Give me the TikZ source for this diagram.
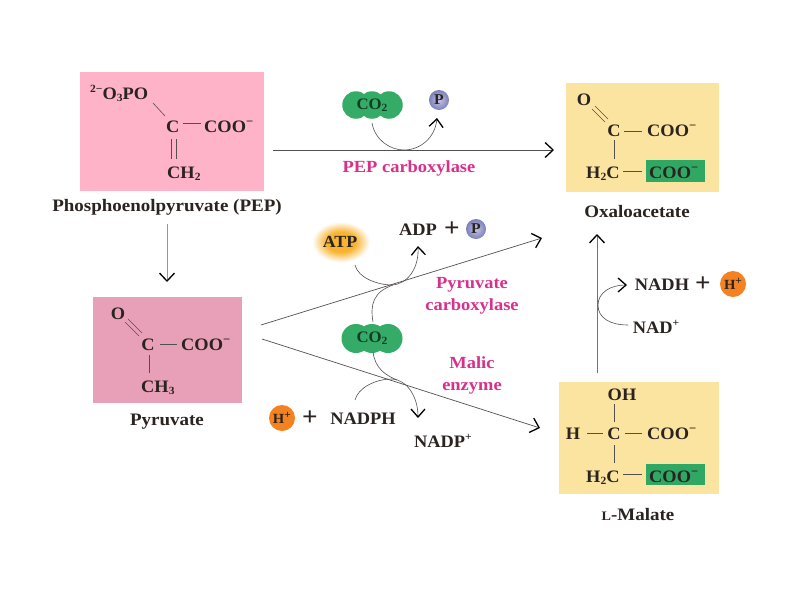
\documentclass[tikz,border=0pt]{standalone}
\usepackage{fontspec}
\setmainfont{Liberation Serif}[FakeStretch=1.05]
\newfontfamily\widefam{Liberation Serif}[FakeStretch=1.085]
\usetikzlibrary{arrows.meta,shapes.geometric}
\definecolor{pepbox}{HTML}{FFB3C8}
\definecolor{pyrbox}{HTML}{E8A0B8}
\definecolor{yelbox}{HTML}{FBE3A0}
\definecolor{hlgreen}{HTML}{2FA864}
\definecolor{co2green}{HTML}{34AC68}
\definecolor{enz}{HTML}{D8308C}
\definecolor{hplus}{HTML}{F58220}
\definecolor{ink}{HTML}{2A2320}
\definecolor{co2ink}{HTML}{143C24}
\definecolor{bondc}{HTML}{555050}
\definecolor{bpin}{HTML}{C4C7E6}
\definecolor{bpout}{HTML}{7C80B8}
\definecolor{atpin}{HTML}{F8B430}
\pgfdeclareradialshading{atpglow}{\pgfpoint{0bp}{0bp}}{color(0bp)=(atpin); color(12bp)=(atpin); color(24bp)=(white); color(50bp)=(white)}
\newcommand{\subs}[1]{\raisebox{-0.3ex}{\fontsize{11}{11}\selectfont #1}}
\newcommand{\sups}[1]{\raisebox{0.75ex}{\fontsize{11}{11}\selectfont #1}}
\newcommand{\minussup}{\raisebox{0.85ex}{\fontsize{12}{12}\selectfont −}}
\tikzset{
  chem/.style={font=\fontsize{17.5}{18}\selectfont\bfseries,text=ink,inner sep=0pt,anchor=base west},
  chemc/.style={font=\fontsize{17.5}{18}\selectfont\bfseries,text=ink,inner sep=0pt,anchor=base},
  cname/.style={font=\widefam\fontsize{17.5}{18}\selectfont\bfseries,text=ink,inner sep=0pt,anchor=base},
  enzyme/.style={font=\widefam\fontsize{17}{22}\selectfont\bfseries,text=enz,inner sep=0pt,align=center},
  plusn/.style={font=\fontsize{26}{26}\selectfont\bfseries,text=ink,inner sep=0pt},
  bond/.style={draw=bondc,line width=0.6pt},
  flow/.style={draw=bondc,line width=0.7pt,-{Straight Barb[length=8pt,width=15pt,line width=1.3pt,color=black]}},
  swirl/.style={draw=bondc,line width=0.6pt},
  swirlarrow/.style={swirl,-{Straight Barb[length=8pt,width=14pt,line width=1.3pt,color=black]}},
  ballp/.style={circle,minimum size=20pt,inner sep=0pt,inner color=bpin,outer color=bpout,font=\fontsize{15}{15}\selectfont\bfseries,text=ink},
  hball/.style={circle,fill=hplus,minimum size=26pt,inner sep=0pt,font=\fontsize{14}{14}\selectfont\bfseries,text=ink},
  lobe/.style={circle,fill=co2green,minimum size=27.5pt,inner sep=0pt},
  co2t/.style={font=\fontsize{16}{16}\selectfont\bfseries,text=co2ink,inner sep=0pt},
}
\begin{document}
\begin{tikzpicture}[x=1pt,y=-1pt]
\useasboundingbox (0,0) rectangle (800,600);
\fill[white] (0,0) rectangle (800,600);
% boxes
\fill[pepbox] (80,72) rectangle (264,191);
\fill[pyrbox] (93,297) rectangle (242,403);
\fill[yelbox] (566,83) rectangle (719,192);
\fill[yelbox] (559,382) rectangle (719,494);
\fill[hlgreen] (646,160) rectangle (705,182);
\fill[hlgreen] (646,464) rectangle (705,485);

% PEP
\node[chem] (pepo) at (90,99) {\sups{2−}O\subs{3}PO};
\node[chem] (pepc) at (166,132) {C};
\node[chem] (pepcoo) at (204,132) {COO\minussup};
\node[chem] (pepch) at (167,178) {CH\subs{2}};
\coordinate (b1a) at (153,103); \coordinate (b1b) at (165,116);
\draw[bond] (b1a) -- (b1b);
\coordinate (b2a) at (183,123); \coordinate (b2b) at (201,123);
\draw[bond] (b2a) -- (b2b);
\coordinate (b3a) at (171,139); \coordinate (b3b) at (171,159);
\coordinate (b4a) at (176,139); \coordinate (b4b) at (176,159);
\draw[bond] (b3a) -- (b3b);
\draw[bond] (b4a) -- (b4b);
\node[cname] (pepname) at (167,211) {Phosphoenolpyruvate (PEP)};

% Pyruvate
\node[chemc] (pyo) at (118,319) {O};
\node[chemc] (pyc) at (148,350) {C};
\node[chem] (pycoo) at (181,350) {COO\minussup};
\node[chem] (pych) at (141,392) {CH\subs{3}};
\coordinate (p1a) at (125,322); \coordinate (p1b) at (139,336);
\coordinate (p2a) at (128,319); \coordinate (p2b) at (142,333);
\draw[bond] (p1a) -- (p1b);
\draw[bond] (p2a) -- (p2b);
\coordinate (p3a) at (160,344); \coordinate (p3b) at (177,344);
\draw[bond] (p3a) -- (p3b);
\coordinate (p4a) at (149,355); \coordinate (p4b) at (149,373);
\draw[bond] (p4a) -- (p4b);
\node[cname] (pyname) at (167,425) {Pyruvate};

% Oxaloacetate
\node[chemc] (oxo) at (584,105) {O};
\node[chemc] (oxc) at (614,136) {C};
\node[chem] (oxcoo) at (647,136) {COO\minussup};
\node[chem] (oxh) at (586,178) {H\subs{2}C};
\node[chem] (oxcoo2) at (649,178) {COO\minussup};
\coordinate (o1a) at (592,109); \coordinate (o1b) at (605,122);
\coordinate (o2a) at (595,106); \coordinate (o2b) at (608,119);
\draw[bond] (o1a) -- (o1b);
\draw[bond] (o2a) -- (o2b);
\coordinate (o3a) at (624,131); \coordinate (o3b) at (642,131);
\draw[bond] (o3a) -- (o3b);
\coordinate (o4a) at (614,140); \coordinate (o4b) at (614,159);
\draw[bond] (o4a) -- (o4b);
\coordinate (o5a) at (623,171); \coordinate (o5b) at (642,171);
\draw[bond] (o5a) -- (o5b);
\node[cname] (oxname) at (637,217) {Oxaloacetate};

% Malate
\node[chemc] (mh) at (622,400) {OH};
\node[chemc] (mhh) at (573,439) {H};
\node[chemc] (mc) at (614,439) {C};
\node[chem] (mcoo) at (647,439) {COO\minussup};
\node[chem] (mh2) at (586,482) {H\subs{2}C};
\node[chem] (mcoo2) at (649,482) {COO\minussup};
\coordinate (m1a) at (614.5,404); \coordinate (m1b) at (614.5,422);
\draw[bond] (m1a) -- (m1b);
\coordinate (m2a) at (587,433); \coordinate (m2b) at (603,433);
\draw[bond] (m2a) -- (m2b);
\coordinate (m3a) at (625,433); \coordinate (m3b) at (642,433);
\draw[bond] (m3a) -- (m3b);
\coordinate (m4a) at (614.5,445); \coordinate (m4b) at (614.5,463);
\draw[bond] (m4a) -- (m4b);
\coordinate (m5a) at (623,474); \coordinate (m5b) at (642,474);
\draw[bond] (m5a) -- (m5b);
\node[cname] (mname) at (638,520) {{\fontsize{13}{13}\selectfont L}-Malate};

% main arrows
\coordinate (carbS) at (273,150); \coordinate (carbE) at (554,150);
\draw[flow] (carbS) -- (carbE);
\coordinate (downS) at (167,224); \coordinate (downE) at (167,282);
\draw[flow,draw=bondc!60] (downS) -- (downE);
\coordinate (upS) at (261,325); \coordinate (upE) at (542,238);
\draw[flow] (upS) -- (upE);
\coordinate (loS) at (262,339); \coordinate (loE) at (540,428);
\draw[flow] (loS) -- (loE);
\coordinate (vS) at (597,373); \coordinate (vE) at (597,234);
\draw[flow,draw=bondc!80] (vS) -- (vE);

% CO2 top
\node[lobe] (ca1) at (356,105) {};
\node[lobe] (ca2) at (372,105) {};
\node[lobe] (ca3) at (389,105) {};
\node[co2t] (co2a) at (372,105) {CO\subs{2}};
\node[ballp] (pa) at (439,100) {P};
\coordinate (c1s) at (372,123); \coordinate (c1m) at (404,150); \coordinate (c1e) at (437,118);
\draw[swirlarrow] (c1s) .. controls (375,140) and (390,150) .. (c1m) .. controls (420,150) and (435,138) .. (c1e);

% ATP
\node[ellipse,minimum width=60pt,minimum height=42pt,inner sep=0pt,shading=atpglow] (atpglowo) at (341,242) {};
\node[font=\fontsize{17}{17}\selectfont\bfseries,text=ink,inner sep=0pt] (atp) at (340,242) {ATP};
\node[chemc] (adp) at (418,235) {ADP};
\node[plusn] (plus1) at (452,229) {+};
\node[ballp] (pb) at (476,229) {P};
\coordinate (a1s) at (355,265); \coordinate (a1m) at (392,285); \coordinate (a1e) at (418,246);
\draw[swirlarrow] (a1s) .. controls (358,278) and (378,285) .. (a1m) .. controls (408,284) and (419,268) .. (a1e);

% CO2 middle
\node[lobe,minimum size=29pt] (cb1) at (356,338.5) {};
\node[lobe,minimum size=29pt] (cb2) at (372,338.5) {};
\node[lobe,minimum size=29pt] (cb3) at (388,338.5) {};
\node[co2t] (co2b) at (372,338.5) {CO\subs{2}};
\coordinate (c2s) at (373,322); \coordinate (c2e) at (393,285);
\draw[swirl] (c2s) .. controls (370,305) and (373,292) .. (c2e);
\coordinate (c3s) at (373,352); \coordinate (c3e) at (397,380);
\draw[swirl] (c3s) .. controls (375,368) and (385,375) .. (c3e);

% NADPH
\node[hball] (hb) at (282,418) {H\sups{+}};
\node[plusn] (plus2) at (310,418) {+};
\node[chemc] (nadph) at (363,424) {NADPH};
\node[chemc] (nadp) at (443,447) {NADP\sups{+}};
\coordinate (n1s) at (355,400); \coordinate (n1m) at (392,379); \coordinate (n1e) at (418,418);
\draw[swirlarrow] (n1s) .. controls (358,388) and (375,379) .. (n1m) .. controls (408,380) and (418,398) .. (n1e);

% NAD
\node[chemc] (nadh) at (662,290) {NADH};
\node[plusn] (plus3) at (703,284) {+};
\node[hball] (hc) at (733,284) {H\sups{+}};
\node[chemc] (nad) at (656,333) {NAD\sups{+}};
\coordinate (d1s) at (628,325); \coordinate (d1m) at (598,305); \coordinate (d1e) at (627,285);
\draw[swirlarrow] (d1s) .. controls (610,325) and (598,318) .. (d1m) .. controls (598,293) and (610,285) .. (d1e);

% enzymes
\node[enzyme] (ez1) at (409,168) {PEP carboxylase};
\node[enzyme] (ez2) at (472,296) {Pyruvate\\carboxylase};
\node[enzyme] (ez3) at (472,375) {Malic\\enzyme};
\end{tikzpicture}
\end{document}
